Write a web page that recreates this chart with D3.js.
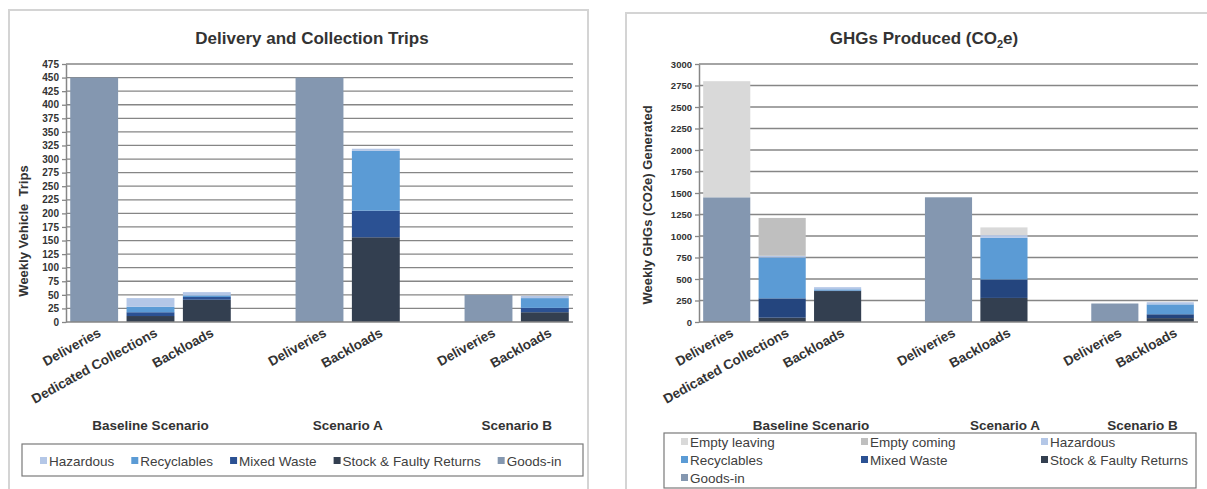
<!DOCTYPE html>
<html>
<head>
<meta charset="utf-8">
<script src="https://cdn.jsdelivr.net/npm/d3@7"></script>
<style>
body { margin: 0; background: #fff; }
svg text { font-family: Arial, "Liberation Sans", sans-serif; }
</style>
</head>
<body>
<div id="chart"></div>
<script>
// Category slots shared by both charts (blank slots are the gaps between scenarios)
const categories = ["Deliveries", "Dedicated Collections", "Backloads", "", "Deliveries", "Backloads", "", "Deliveries", "Backloads"];
const scenarios = ["Baseline Scenario", "Scenario A", "Scenario B"];

// Delivery and Collection Trips - weekly vehicle trips
const tripGoodsIn   = [450, 0, 0, 0, 450, 0, 0, 50, 0];
const tripStock     = [0, 11, 41, 0, 0, 156, 0, 0, 18];
const tripMixed     = [0, 7, 5, 0, 0, 49, 0, 0, 8];
const tripRecycle   = [0, 10, 3, 0, 0, 110, 0, 0, 18];
const tripHazardous = [0, 16, 6, 0, 0, 4, 0, 0, 4];
const tripTicks = [0, 25, 50, 75, 100, 125, 150, 175, 200, 225, 250, 275, 300, 325, 350, 375, 400, 425, 450, 475];

// GHGs Produced - weekly CO2e generated
const ghgGoodsIn      = [1450, 0, 0, 0, 1450, 0, 0, 215, 0];
const ghgStock        = [0, 50, 360, 0, 0, 280, 0, 0, 45];
const ghgMixed        = [0, 225, 5, 0, 0, 215, 0, 0, 45];
const ghgRecycle      = [0, 475, 15, 0, 0, 485, 0, 0, 115];
const ghgHazardous    = [0, 20, 25, 0, 0, 30, 0, 0, 25];
const ghgEmptyComing  = [0, 440, 0, 0, 0, 0, 0, 0, 0];
const ghgEmptyLeaving = [1350, 0, 0, 0, 0, 90, 0, 0, 0];
const ghgTicks = [0, 250, 500, 750, 1000, 1250, 1500, 1750, 2000, 2250, 2500, 2750, 3000];

const colors = {
    "Goods-in": "#8497b0",
    "Stock & Faulty Returns": "#333f50",
    "Mixed Waste": "#2b5193",
    "Recyclables": "#5b9bd5",
    "Hazardous": "#b4c7e7",
    "Empty coming": "#bfbfbf",
    "Empty leaving": "#d9d9d9"
};

const gridColor = "#868686";
const textColor = "#333";

const svg = d3.select("#chart")
    .append("svg")
    .attr("width", 1207)
    .attr("height", 489);

function drawChart(o) {
    const g = svg.append("g");

    // outer chart frame
    g.append("rect")
        .attr("x", o.box[0]).attr("y", o.box[1])
        .attr("width", o.box[2]).attr("height", o.box[3])
        .attr("fill", "#fff")
        .attr("stroke", "#d4d4d4")
        .attr("stroke-width", 2);

    const x = d3.scaleBand()
        .domain(d3.range(categories.length))
        .range([o.x0, o.x1])
        .paddingInner(0.15)
        .paddingOuter(0.075);

    const y = d3.scaleLinear()
        .domain([0, d3.max(o.ticks)])
        .range([322, 64]);

    // gridlines
    g.selectAll(".grid")
        .data(o.ticks.slice(1))
        .join("line")
        .attr("x1", o.x0).attr("x2", o.x1)
        .attr("y1", d => y(d)).attr("y2", d => y(d))
        .attr("stroke", gridColor)
        .attr("stroke-width", 1.3);

    // stacked bars
    const rows = categories.map((c, i) => {
        const r = { i: i };
        o.series.forEach(s => r[s.name] = s.values[i]);
        return r;
    });
    const stacked = d3.stack().keys(o.series.map(s => s.name))(rows);

    g.selectAll(".layer")
        .data(stacked)
        .join("g")
        .attr("fill", d => o.series[d.index].color)
        .selectAll("rect")
        .data(d => d.filter(p => p[1] > p[0]))
        .join("rect")
        .attr("x", d => x(d.data.i))
        .attr("width", x.bandwidth())
        .attr("y", d => y(d[1]))
        .attr("height", d => y(d[0]) - y(d[1]));

    // x axis line
    g.append("line")
        .attr("x1", o.x0).attr("x2", o.x1)
        .attr("y1", y(0)).attr("y2", y(0))
        .attr("stroke", gridColor)
        .attr("stroke-width", 1.5);

    // y axis
    const ax = g.append("g")
        .attr("transform", `translate(${o.x0},0)`)
        .call(d3.axisLeft(y).tickValues(o.ticks).tickFormat(d3.format("d"))
            .tickSize(4).tickPadding(3).tickSizeOuter(0));
    ax.select(".domain").attr("stroke", gridColor).attr("stroke-width", 1.5);
    ax.selectAll(".tick line").attr("stroke", gridColor).attr("stroke-width", 1.3);
    ax.selectAll(".tick text")
        .attr("fill", textColor)
        .style("font-size", o.tickFont)
        .style("font-weight", "bold");

    // category labels
    g.selectAll(".cat")
        .data(categories.map((c, i) => ({ c, i })).filter(d => d.c))
        .join("text")
        .attr("transform", d => `translate(${x(d.i) + x.bandwidth() / 2 + 3},${327}) rotate(-29)`)
        .attr("text-anchor", "end")
        .attr("dy", "0.72em")
        .attr("fill", textColor)
        .style("font-size", "13.5px")
        .style("font-weight", "bold")
        .text(d => d.c);

    // scenario labels
    const step = x.step();
    g.selectAll(".scen")
        .data(scenarios)
        .join("text")
        .attr("x", (d, i) => o.x0 + o.scenPos[i] * step)
        .attr("y", 430)
        .attr("text-anchor", "middle")
        .attr("fill", textColor)
        .style("font-size", "13.5px")
        .style("font-weight", "bold")
        .text(d => d);

    // title
    const t = g.append("text")
        .attr("x", o.titleX)
        .attr("y", 44)
        .attr("text-anchor", "middle")
        .attr("fill", textColor)
        .style("font-size", "17px")
        .style("font-weight", "bold");
    o.title.forEach(p => {
        const ts = t.append("tspan").text(p.t);
        if (p.sub) ts.style("font-size", "11px").attr("dy", 4);
        if (p.after) ts.attr("dy", -4);
    });

    // y axis title
    g.append("text")
        .attr("transform", `translate(${o.yTitle[0]},${o.yTitle[1]}) rotate(-90)`)
        .attr("xml:space", "preserve")
        .attr("text-anchor", "middle")
        .attr("fill", textColor)
        .style("font-size", "13px")
        .style("font-weight", "bold")
        .text(o.yTitleText);

    // legend frame
    const L = o.legend;
    g.append("rect")
        .attr("x", L.box[0]).attr("y", L.box[1])
        .attr("width", L.box[2]).attr("height", L.box[3])
        .attr("fill", "#fff")
        .attr("stroke", "#7a7a7a")
        .attr("stroke-width", 1.2);

    const items = g.selectAll(".leg")
        .data(L.order)
        .join("g");
    items.append("rect")
        .attr("y", -4).attr("width", 7).attr("height", 7)
        .attr("fill", d => colors[d]);
    items.append("text")
        .attr("x", 9)
        .attr("dy", "0.35em")
        .attr("fill", "#404040")
        .style("font-size", "13.5px")
        .text(d => d);

    if (L.cols) {
        items.attr("transform", (d, i) =>
            `translate(${L.box[0] + L.pad + (i % L.cols) * L.colW},${L.rowY[Math.floor(i / L.cols)]})`);
    } else {
        let cx = L.box[0] + L.pad;
        items.each(function () {
            d3.select(this).attr("transform", `translate(${cx},${L.rowY[0]})`);
            cx += 9 + d3.select(this).select("text").node().getComputedTextLength() + L.gap;
        });
    }
}

drawChart({
    box: [9, 10, 579, 500],
    x0: 66, x1: 573,
    ticks: tripTicks,
    tickFont: "10px",
    series: [
        { name: "Goods-in", values: tripGoodsIn, color: colors["Goods-in"] },
        { name: "Stock & Faulty Returns", values: tripStock, color: colors["Stock & Faulty Returns"] },
        { name: "Mixed Waste", values: tripMixed, color: colors["Mixed Waste"] },
        { name: "Recyclables", values: tripRecycle, color: colors["Recyclables"] },
        { name: "Hazardous", values: tripHazardous, color: colors["Hazardous"] }
    ],
    scenPos: [1.5, 5, 8],
    titleX: 312,
    title: [{ t: "Delivery and Collection Trips" }],
    yTitle: [28, 231],
    yTitleText: "Weekly Vehicle  Trips",
    legend: {
        box: [22, 444, 561, 32],
        pad: 18, gap: 17,
        rowY: [461],
        order: ["Hazardous", "Recyclables", "Mixed Waste", "Stock & Faulty Returns", "Goods-in"]
    }
});

drawChart({
    box: [626, 13, 600, 500],
    x0: 699, x1: 1198,
    ticks: ghgTicks,
    tickFont: "9.5px",
    series: [
        { name: "Goods-in", values: ghgGoodsIn, color: colors["Goods-in"] },
        { name: "Stock & Faulty Returns", values: ghgStock, color: colors["Stock & Faulty Returns"] },
        { name: "Mixed Waste", values: ghgMixed, color: "#24457e" },
        { name: "Recyclables", values: ghgRecycle, color: colors["Recyclables"] },
        { name: "Hazardous", values: ghgHazardous, color: colors["Hazardous"] },
        { name: "Empty coming", values: ghgEmptyComing, color: colors["Empty coming"] },
        { name: "Empty leaving", values: ghgEmptyLeaving, color: colors["Empty leaving"] }
    ],
    scenPos: [2.02, 5.52, 8],
    titleX: 924,
    title: [{ t: "GHGs Produced (CO" }, { t: "2", sub: true }, { t: "e)", after: true }],
    yTitle: [652, 205],
    yTitleText: "Weekly GHGs (CO2e) Generated",
    legend: {
        box: [664, 433, 532, 55],
        pad: 17, cols: 3, colW: 180,
        rowY: [442, 460, 478],
        order: ["Empty leaving", "Empty coming", "Hazardous", "Recyclables", "Mixed Waste", "Stock & Faulty Returns", "Goods-in"]
    }
});
</script>
</body>
</html>
